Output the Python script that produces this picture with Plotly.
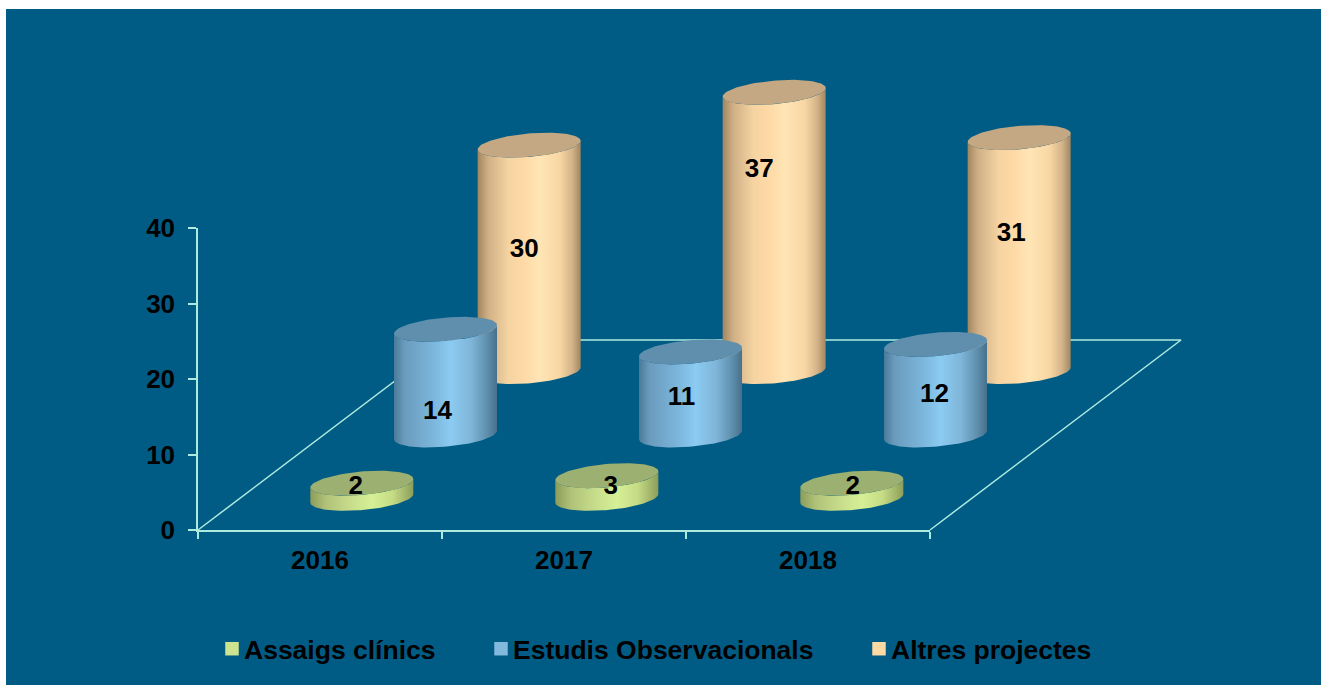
import numpy as np
import plotly.graph_objects as go

# ---- data ----
categories = ["2016", "2017", "2018"]
assaigs = [2, 3, 2]
estudis = [14, 11, 12]
altres = [30, 37, 31]
series_names = ["Assaigs clínics", "Estudis Observacionals", "Altres projectes"]
y_ticks = [0, 10, 20, 30, 40]

# ---- geometry (pixels on the page) ----
W, H = 1321, 685
ML, MT = 6, 9
X0_PX, X1_PX = 198, 930
Y0_PX, Y40_PX = 530, 228
PX_PER_CAT = (X1_PX - X0_PX) / 3
PX_PER_VAL = (Y0_PX - Y40_PX) / 40
DEPTH_X, DEPTH_Y = 251, 190
A, B, C = 51.5, 11.7, 4.3
PITCH = 245 / 244
N = 60

PW, PH = W - ML, H - MT
xr = [(ML - X0_PX) / PX_PER_CAT - 0.5, (W - X0_PX) / PX_PER_CAT - 0.5]
yr = [(Y0_PX - H) / PX_PER_VAL, (Y0_PX - MT) / PX_PER_VAL]


def ux(px):
    return px / PX_PER_CAT


def uy(px):
    return px / PX_PER_VAL


def lower_arc(cx, cy):
    t = np.linspace(np.pi, 2 * np.pi, N)
    return cx + ux(A) * np.cos(t), cy + uy(B) * np.sin(t) + uy(C) * np.cos(t)


def full_ellipse(cx, cy):
    t = np.linspace(0, 2 * np.pi, 2 * N)
    return cx + ux(A) * np.cos(t), cy + uy(B) * np.sin(t) + uy(C) * np.cos(t)


scale_orange = [[0, "#A18660"], [0.1, "#CFAF85"], [0.3, "#F5D4A2"], [0.45, "#FED9A6"],
                [0.6, "#FFE5B5"], [0.8, "#F8D6A3"], [0.92, "#D2B288"], [1, "#A18660"]]
scale_blue = [[0, "#4A7A99"], [0.1, "#6A9BBD"], [0.4, "#7DB8DE"], [0.55, "#8CCBF2"],
              [0.75, "#7FB5D8"], [0.9, "#5F90AE"], [1, "#47708C"]]
scale_green = [[0, "#8C9C5A"], [0.15, "#B0C278"], [0.4, "#C8DE8C"], [0.6, "#D6F096"],
               [0.8, "#C5DB85"], [1, "#8C9E5A"]]

BG = "#005C85"
AXIS = "#AEEBDF"
series = [
    (altres, 5 / 6, scale_orange, "#C3A883"),
    (estudis, 1 / 2, scale_blue, "#5F8FAD"),
    (assaigs, 1 / 6, scale_green, "#9BB071"),
]

# label nudges in px relative to the foot of each cylinder
label_dx = {0: [-6, 4, 1], 1: [-8, -9, -1], 2: [-5, -15, -8]}
label_dy = {0: [11, 11, 11], 1: [23, 37, 40], 2: [121, 201, 137]}

fig = go.Figure()

# axis carrier (visible axes)
fig.add_trace(go.Scatter(x=categories, y=[None] * 3, xaxis="x", yaxis="y", mode="markers",
                         hoverinfo="skip", showlegend=False))

# floor outline
fx = [-0.5, ux(DEPTH_X) - 0.5, 2.5 + ux(DEPTH_X), 2.5]
fy = [0, uy(DEPTH_Y), uy(DEPTH_Y), 0]
fig.add_trace(go.Scatter(x=fx, y=fy, xaxis="x2", yaxis="y2", mode="lines",
                         line=dict(color=AXIS, width=1.5),
                         hoverinfo="skip", showlegend=False))

lab_x, lab_y, lab_t = [], [], []
for values, depth, scale, top_col in series:
    sidx = [assaigs, estudis, altres].index(values)
    for i, v in enumerate(values):
        cx = i * PITCH + ux(DEPTH_X) * depth
        cy = uy(DEPTH_Y) * depth
        bx, by = lower_arc(cx, cy)
        tx, ty = lower_arc(cx, cy + v)
        fig.add_trace(go.Scatter(
            x=np.r_[bx, tx[::-1], bx[0]], y=np.r_[by, ty[::-1], by[0]],
            xaxis="x2", yaxis="y2",
            mode="lines", line=dict(width=0), fill="toself",
            fillgradient=dict(type="horizontal", colorscale=scale),
            hoverinfo="skip", showlegend=False))
        ex, ey = full_ellipse(cx, cy + v)
        fig.add_trace(go.Scatter(
            x=ex, y=ey, xaxis="x2", yaxis="y2",
            mode="lines", line=dict(width=0), fill="toself",
            fillcolor=top_col, hoverinfo="skip", showlegend=False))
        lab_x.append(cx + ux(label_dx[sidx][i]))
        lab_y.append(cy + uy(label_dy[sidx][i]))
        lab_t.append(str(v))

FONT = dict(family="Liberation Sans", size=26, color="#000000", weight=700)

fig.add_trace(go.Scatter(x=lab_x, y=lab_y, text=lab_t, xaxis="x2", yaxis="y2",
                         mode="text", textposition="middle center",
                         textfont=FONT, hoverinfo="skip", showlegend=False))

# legend entries
leg_cols = ["#CDE48F", "#82B9DD", "#FDD9A4"]
leg_names = ["legend", "legend2", "legend3"]
for name, col, lg in zip(series_names, leg_cols, leg_names):
    fig.add_trace(go.Scatter(x=[None], y=[None], xaxis="x2", yaxis="y2", mode="markers",
                             name=name, legend=lg,
                             marker=dict(symbol="square", size=13.5, color=col, line=dict(width=0))))


def legend_at(px):
    return dict(x=(px - ML) / PW, y=(H - 649) / PH, xanchor="left", yanchor="middle",
                orientation="h", bgcolor="rgba(0,0,0,0)", borderwidth=0, indentation=-7,
                font=dict(family="Liberation Sans", size=26.5, color="#000000", weight=700))


fig.update_layout(
    width=W, height=H, autosize=False,
    margin=dict(l=ML, r=0, t=MT, b=0, autoexpand=False),
    paper_bgcolor="#FFFFFF", plot_bgcolor="rgba(0,0,0,0)",
    showlegend=True,
    legend=legend_at(211), legend2=legend_at(480), legend3=legend_at(858),
    shapes=[dict(type="rect", xref="paper", yref="paper", x0=0, x1=1, y0=0, y1=1,
                 fillcolor=BG, line=dict(width=0), layer="below")],
    xaxis2=dict(range=xr, visible=False, domain=[0, 1], fixedrange=True, anchor="y2"),
    yaxis2=dict(range=yr, visible=False, domain=[0, 1], fixedrange=True, anchor="x2"),
    xaxis=dict(
        type="category", categoryorder="array", categoryarray=categories,
        range=[-0.5, 2.5], tickson="boundaries", anchor="y",
        domain=[(X0_PX - ML) / PW, (X1_PX - ML) / PW],
        showline=True, linecolor=AXIS, linewidth=1.5, showgrid=False, zeroline=False,
        ticks="outside", ticklen=7, tickwidth=1.5, tickcolor=AXIS, ticklabelstandoff=6,
        tickfont=FONT, fixedrange=True),
    yaxis=dict(
        range=[0, 40], tickvals=y_ticks, anchor="x",
        domain=[(H - Y0_PX) / PH, (H - Y40_PX) / PH],
        showline=True, linecolor=AXIS, linewidth=1.5, showgrid=False, zeroline=False,
        ticks="outside", ticklen=8, tickwidth=1.5, tickcolor=AXIS, ticklabelstandoff=8,
        tickfont=FONT, fixedrange=True),
)

fig.write_html("out.html", config={"displayModeBar": False},
               post_script=("document.body.style.margin='0';"
                            "document.querySelectorAll('.legendsymbols').forEach("
                            "function(el){el.setAttribute('transform','translate(8,0)');});"))
